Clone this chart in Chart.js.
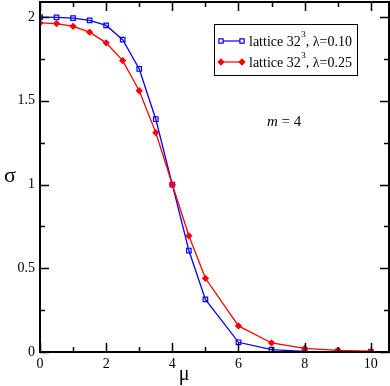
<!DOCTYPE html>
<html>
<head>
<meta charset="utf-8">
<script src="https://cdn.jsdelivr.net/npm/chart.js@4"></script>
<style>
  html, body { margin: 0; padding: 0; background: #fff; }
  #wrap { width: 390px; height: 386px; }
</style>
</head>
<body>
<div id="wrap"><canvas id="sigmaChart" width="390" height="386"></canvas></div>
<script>
// chemical potential values (mu)
const muValues = [0, 0.5, 1, 1.5, 2, 2.5, 3, 3.5, 4, 4.5, 5, 6, 7, 8, 9, 10];

// sigma for lattice 32^3
const sigmaLambda010 = [2.0, 1.998, 1.994, 1.98, 1.95, 1.865, 1.69, 1.39, 1.0, 0.606, 0.314, 0.058, 0.014, 0.004, 0.002, 0.001];
const sigmaLambda025 = [1.965, 1.961, 1.945, 1.91, 1.846, 1.74, 1.56, 1.31, 1.0, 0.694, 0.44, 0.156, 0.054, 0.022, 0.01, 0.005];

const seriesLabels = ['lattice 32', 'lattice 32'];
const seriesTails = [', λ=0.10', ', λ=0.25'];

const xMajorTicks = [0, 2, 4, 6, 8, 10];
const yMajorTicks = [0, 0.5, 1, 1.5, 2];

const serif = '"Liberation Serif", "DejaVu Serif", serif';

function toPoints(ys) {
    return muValues.map((x, i) => ({ x: x, y: ys[i] }));
}

// Ticks on all four sides, pointing inward, plus axis titles, note and legend
const framePlugin = {
    id: 'frame',
    afterDraw(chart) {
        const ctx = chart.ctx;
        const a = chart.chartArea;
        const xs = chart.scales.x;
        const ys = chart.scales.y;
        ctx.save();
        ctx.strokeStyle = '#000';
        ctx.lineWidth = 1.5;

        // x ticks
        for (let v = 0; v <= 10; v++) {
            const len = v % 2 === 0 ? 9 : 5;
            const px = Math.round(xs.getPixelForValue(v)) + 0.5;
            ctx.beginPath();
            ctx.moveTo(px, a.bottom); ctx.lineTo(px, a.bottom - len);
            ctx.moveTo(px, a.top); ctx.lineTo(px, a.top + len);
            ctx.stroke();
        }
        // y ticks
        for (let v = 0; v <= 2.001; v += 0.25) {
            const len = Math.abs(v * 2 - Math.round(v * 2)) < 1e-6 ? 9 : 5;
            const py = Math.round(ys.getPixelForValue(v)) + 0.5;
            ctx.beginPath();
            ctx.moveTo(a.left, py); ctx.lineTo(a.left + len, py);
            ctx.moveTo(a.right, py); ctx.lineTo(a.right - len, py);
            ctx.stroke();
        }

        // frame
        ctx.lineWidth = 2;
        ctx.strokeRect(a.left, a.top, a.right - a.left, a.bottom - a.top);

        // axis titles
        ctx.fillStyle = '#000';
        ctx.textAlign = 'center';
        ctx.textBaseline = 'middle';
        ctx.font = '22px ' + serif;
        ctx.fillText('σ', 10, 176);
        ctx.font = '20px ' + serif;
        ctx.fillText('μ', 184, 375);

        // m = 4 annotation
        ctx.textAlign = 'left';
        ctx.font = 'italic 15px ' + serif;
        ctx.fillText('m', 267, 122);
        const mw = ctx.measureText('m').width;
        ctx.font = '15px ' + serif;
        ctx.fillText(' = 4', 267 + mw, 122);

        // legend box
        ctx.lineWidth = 1;
        ctx.strokeStyle = '#000';
        ctx.strokeRect(214.5, 24.5, 143, 51);
        const colors = ['#0000ff', '#ff0000'];
        const fills = ['#ffffff', '#ff0000'];
        const styles = ['rect', 'rectRot'];
        const rows = [41, 62];
        rows.forEach((ry, i) => {
            ctx.strokeStyle = colors[i];
            ctx.lineWidth = 1.2;
            ctx.beginPath();
            ctx.moveTo(221, ry); ctx.lineTo(242, ry);
            ctx.stroke();
            ctx.fillStyle = fills[i];
            [221, 242].forEach(px => {
                Chart.helpers.drawPoint(ctx, {
                    pointStyle: styles[i], radius: i === 0 ? 3 : 2.8, borderWidth: 1.2
                }, px, ry);
            });
            ctx.fillStyle = '#000';
            ctx.font = '14px ' + serif;
            ctx.textBaseline = 'middle';
            let tx = 249;
            ctx.fillText(seriesLabels[i], tx, ry + 1);
            tx += ctx.measureText(seriesLabels[i]).width;
            ctx.font = '9px ' + serif;
            ctx.fillText('3', tx + 0.5, ry - 6);
            tx += ctx.measureText('3').width + 0.5;
            ctx.font = '14px ' + serif;
            ctx.fillText(seriesTails[i], tx, ry + 1);
        });
        ctx.restore();
    }
};

new Chart(document.getElementById('sigmaChart').getContext('2d'), {
    type: 'scatter',
    data: {
        datasets: [{
            label: 'lattice 32^3, λ=0.10',
            data: toPoints(sigmaLambda010),
            order: 1,
            showLine: true,
            borderColor: '#0000ff',
            backgroundColor: 'rgba(0,0,0,0)',
            borderWidth: 1.3,
            pointStyle: 'rect',
            pointRadius: 3.2,
            pointBorderWidth: 1.2,
            pointBorderColor: '#0000ff',
            tension: 0
        }, {
            label: 'lattice 32^3, λ=0.25',
            data: toPoints(sigmaLambda025),
            order: 0,
            showLine: true,
            borderColor: '#ff0000',
            backgroundColor: '#ff0000',
            borderWidth: 1.3,
            pointStyle: 'rectRot',
            pointRadius: 2.8,
            pointBorderWidth: 1.2,
            pointBorderColor: '#ff0000',
            tension: 0
        }]
    },
    options: {
        responsive: false,
        animation: false,
        layout: { autoPadding: false, padding: { top: 2, right: 1, left: 0, bottom: 0 } },
        plugins: {
            legend: { display: false },
            tooltip: { enabled: false }
        },
        scales: {
            x: {
                type: 'linear',
                min: 0,
                max: 10.55,
                grid: { display: false, drawTicks: false },
                border: { display: false },
                afterFit: s => {
                    s.height = 34;
                    s.paddingLeft = 0;
                    s.paddingRight = 0;
                },
                afterBuildTicks: s => { s.ticks = xMajorTicks.map(v => ({ value: v })); },
                ticks: {
                    color: '#000',
                    padding: 4,
                    maxRotation: 0,
                    font: { family: serif, size: 14 }
                }
            },
            y: {
                type: 'linear',
                min: 0,
                max: 2.09,
                grid: { display: false, drawTicks: false },
                border: { display: false },
                afterFit: s => {
                    s.width = 40;
                    s.paddingTop = 0;
                    s.paddingBottom = 0;
                },
                afterBuildTicks: s => { s.ticks = yMajorTicks.map(v => ({ value: v })); },
                ticks: {
                    color: '#000',
                    padding: 5,
                    font: { family: serif, size: 14 },
                    callback: v => String(v)
                }
            }
        }
    },
    plugins: [framePlugin]
});
</script>
</body>
</html>
